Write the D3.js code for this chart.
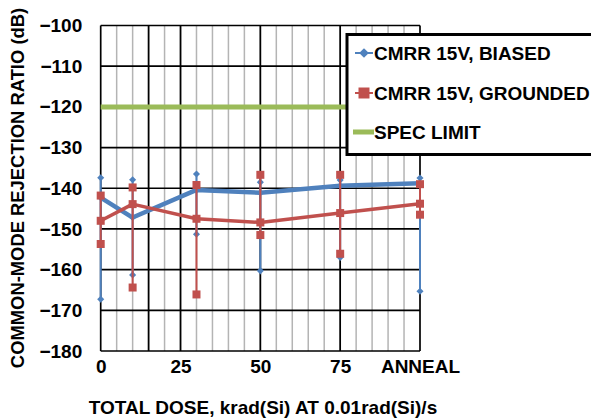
<!DOCTYPE html>
<html><head><meta charset="utf-8">
<script src="https://cdn.jsdelivr.net/npm/d3@7"></script>
<style>
body{margin:0;background:#fff;}
svg{display:block;font-family:"Liberation Sans",Arial,sans-serif;font-weight:bold;}
</style></head>
<body><svg id="c" width="591" height="418"></svg>
<script>
const doses = [0, 10, 30, 50, 75, 100];
const biasedMean = [-142.3, -147.2, -140.4, -141.1, -139.4, -138.8];
const biasedMax  = [-137.4, -137.9, -136.5, -138.5, -138.0, -137.5];
const biasedMin  = [-167.3, -161.3, -151.3, -160.3, -157.0, -165.3];
const groundedMean = [-148.0, -143.9, -147.5, -148.4, -146.1, -143.8];
const groundedMax  = [-141.8, -139.8, -139.2, -136.7, -136.7, -139.0];
const groundedMin  = [-153.7, -164.4, -166.1, -151.5, -156.1, -146.5];
const specLimit = -120;
const xTickValues = [0, 25, 50, 75, 100];
const xTickLabels = ["0", "25", "50", "75", "ANNEAL"];
const xMajorGrid = [0, 15, 25, 50, 75, 100];
const yTicks = [-180, -170, -160, -150, -140, -130, -120, -110, -100];
const legendLabels = ["CMRR 15V, BIASED", "CMRR 15V, GROUNDED", "SPEC LIMIT"];

const BLUE = "#4F81BD", RED = "#C0504D", GREEN = "#9BBB59";
const FS = 19;
const svg = d3.select("#c");
const x = d3.scaleLinear().domain([0, 100]).range([100.7, 420]);
const y = d3.scaleLinear().domain([-180, -100]).range([351, 25.5]);

// minor gray gridlines
svg.append("g").selectAll("line").data(d3.range(5, 100, 5)).join("line")
  .attr("x1", d => x(d)).attr("x2", d => x(d))
  .attr("y1", y(-100)).attr("y2", y(-180))
  .attr("stroke", "#b4b4b4").attr("stroke-width", 1.5);
// major black vertical
svg.append("g").selectAll("line").data(xMajorGrid).join("line")
  .attr("x1", d => x(d)).attr("x2", d => x(d))
  .attr("y1", y(-100)).attr("y2", y(-180))
  .attr("stroke", "#000").attr("stroke-width", 1.7);
// horizontal black
svg.append("g").selectAll("line").data(yTicks).join("line")
  .attr("x1", x(0)).attr("x2", x(100))
  .attr("y1", d => y(d)).attr("y2", d => y(d))
  .attr("stroke", "#000").attr("stroke-width", 1.7);

// y axis labels
const yAxis = d3.axisLeft(y).tickValues(yTicks).tickSize(0).tickPadding(18.5);
const ga = svg.append("g").attr("transform", `translate(${x(0)},0)`).call(yAxis);
ga.select(".domain").remove();
ga.selectAll("text").attr("font-size", FS).attr("font-weight", "bold").attr("font-family", "Liberation Sans, Arial").attr("fill", "#000");

// x axis labels
const xAxis = d3.axisBottom(x).tickValues(xTickValues).tickFormat((d, i) => xTickLabels[i]).tickSize(0).tickPadding(9);
const gx = svg.append("g").attr("transform", `translate(0,${y(-180)})`).call(xAxis);
gx.select(".domain").remove();
gx.selectAll("text").attr("font-size", FS).attr("font-weight", "bold").attr("font-family", "Liberation Sans, Arial").attr("fill", "#000");

// axis titles
svg.append("text").attr("x", 263).attr("y", 414).attr("text-anchor", "middle")
  .attr("font-size", FS).text("TOTAL DOSE, krad(Si) AT 0.01rad(Si)/s");
svg.append("text").attr("transform", "translate(24,188) rotate(-90)").attr("text-anchor", "middle")
  .attr("font-size", 18.4).text("COMMON-MODE REJECTION RATIO (dB)");

// spec limit
svg.append("line").attr("x1", x(0)).attr("x2", x(100)).attr("y1", y(specLimit)).attr("y2", y(specLimit))
  .attr("stroke", GREEN).attr("stroke-width", 5);

const line = d3.line().x(d => x(d[0])).y(d => y(d[1]));
function series(mean, max, min, color, w, marker) {
  const g = svg.append("g");
  g.selectAll("line.hl").data(doses).join("line").attr("class", "hl")
    .attr("x1", d => x(d)).attr("x2", d => x(d))
    .attr("y1", (d, i) => y(max[i])).attr("y2", (d, i) => y(min[i]))
    .attr("stroke", color).attr("stroke-width", 2);
  g.append("path").datum(doses.map((d, i) => [d, mean[i]])).attr("d", line)
    .attr("fill", "none").attr("stroke", color).attr("stroke-width", w).attr("stroke-linejoin", "round");
  const pts = [];
  doses.forEach((d, i) => { pts.push([d, max[i]], [d, mean[i]], [d, min[i]]); });
  g.selectAll("path.m").data(pts).join("path").attr("class", "m")
    .attr("transform", d => `translate(${x(d[0])},${y(d[1])})`)
    .attr("d", marker).attr("fill", color);
}
const diamond = d3.symbol().type(d3.symbolDiamond2).size(32)();
const square = "M-4,-4H4V4H-4Z";
series(biasedMean, biasedMax, biasedMin, BLUE, 4.5, diamond);
series(groundedMean, groundedMax, groundedMin, RED, 3.5, square);

// legend
const lg = svg.append("g");
lg.append("rect").attr("x", 347).attr("y", 34.5).attr("width", 260).attr("height", 120)
  .attr("fill", "#fff").attr("stroke", "#000").attr("stroke-width", 3);
const rows = [53, 93, 132];
lg.append("line").attr("x1", 355).attr("x2", 373).attr("y1", rows[0]).attr("y2", rows[0]).attr("stroke", BLUE).attr("stroke-width", 2);
lg.append("path").attr("transform", `translate(364,${rows[0]})`).attr("d", d3.symbol().type(d3.symbolDiamond2).size(60)()).attr("fill", BLUE);
lg.append("line").attr("x1", 355).attr("x2", 373).attr("y1", rows[1]).attr("y2", rows[1]).attr("stroke", RED).attr("stroke-width", 2);
lg.append("path").attr("transform", `translate(364,${rows[1]})`).attr("d", "M-5.5,-5.5H5.5V5.5H-5.5Z").attr("fill", RED);
lg.append("line").attr("x1", 353).attr("x2", 374).attr("y1", rows[2]).attr("y2", rows[2]).attr("stroke", GREEN).attr("stroke-width", 5);
lg.selectAll("text").data(legendLabels).join("text")
  .attr("x", 374).attr("y", (d, i) => rows[i] + 7).attr("font-size", FS).text(d => d);
</script></body></html>
